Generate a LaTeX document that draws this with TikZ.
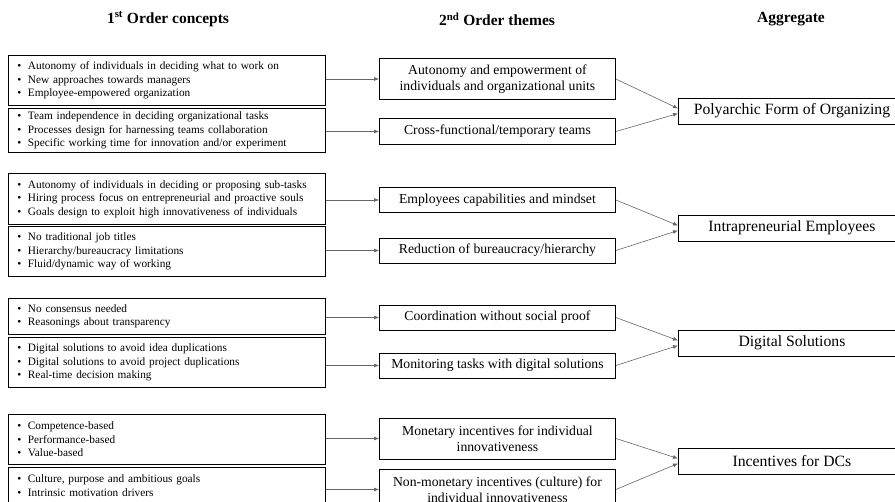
\documentclass[tikz,border=0pt]{standalone}
\usepackage{fontspec}
\setmainfont{Liberation Serif}
\usetikzlibrary{arrows.meta}
\newcommand\bl[1]{\makebox[10.5pt][l]{\textbullet}#1}
\tikzset{
 lbox/.style={draw=black, line width=0.9pt, anchor=north west, text width=299pt, inner xsep=9pt, inner ysep=0pt, align=left, font=\fontsize{11.3}{13.6}\selectfont},
 mbox/.style={draw=black, line width=0.9pt, anchor=west, minimum width=236pt, align=center, inner sep=0pt, font=\fontsize{13.7}{15.5}\selectfont},
 abox/.style={draw=black, line width=0.9pt, anchor=west, minimum width=227pt, minimum height=26pt, inner sep=0pt, font=\fontsize{15.7}{18}\selectfont},
 hdr/.style={font=\bfseries\fontsize{15.5}{18}\selectfont},
 conn/.style={draw=black!60, line width=0.6pt, -{Latex[length=5pt,width=4pt]}},
}
\begin{document}
\begin{tikzpicture}[x=1pt,y=-1pt]
\useasboundingbox (0,0) rectangle (895,502);
\clip (0,0) rectangle (895,502);
% headers
\node[hdr] (h1) at (168,19) {1\textsuperscript{st} Order concepts};
\node[hdr] (h2) at (497,19) {2\textsuperscript{nd} Order themes};
\node[hdr] (h3) at (791,19) {Aggregate};
% first order boxes
\node[lbox, minimum height=50pt] (b1) at (8,55) {\bl{Autonomy of individuals in deciding what to work on}\\\bl{New approaches towards managers}\\\bl{Employee-empowered organization}};
\node[lbox, minimum height=44pt] (b2) at (8,108) {\bl{Team independence in deciding organizational tasks}\\\bl{Processes design for harnessing teams collaboration}\\\bl{Specific working time for innovation and/or experiment}};
\node[lbox, minimum height=51pt] (b3) at (8,173) {\bl{Autonomy of individuals in deciding or proposing sub-tasks}\\\bl{Hiring process focus on entrepreneurial and proactive souls}\\\bl{Goals design to exploit high innovativeness of individuals}};
\node[lbox, minimum height=50pt] (b4) at (8,226) {\bl{No traditional job titles}\\\bl{Hierarchy/bureaucracy limitations}\\\bl{Fluid/dynamic way of working}};
\node[lbox, minimum height=36pt] (b5) at (8,298) {\bl{No consensus needed}\\\bl{Reasonings about transparency}};
\node[lbox, minimum height=50pt] (b6) at (8,337) {\bl{Digital solutions to avoid idea duplications}\\\bl{Digital solutions to avoid project duplications}\\\bl{Real-time decision making}};
\node[lbox, minimum height=50pt] (b7) at (8,414) {\bl{Competence-based}\\\bl{Performance-based}\\\bl{Value-based}};
\node[lbox, minimum height=50pt] (b8) at (8,467) {\bl{Culture, purpose and ambitious goals}\\\bl{Intrinsic motivation drivers}\\\mbox{}};
% second order themes
\node[mbox, minimum height=41pt] (m1) at (379,79) {Autonomy and empowerment of\\individuals and organizational units};
\node[mbox, minimum height=26pt] (m2) at (379,131.5) {Cross-functional/temporary teams};
\node[mbox, minimum height=25pt] (m3) at (379,200) {Employees capabilities and mindset};
\node[mbox, minimum height=25pt] (m4) at (379,250.5) {Reduction of bureaucracy/hierarchy};
\node[mbox, minimum height=25pt] (m5) at (379,317.5) {Coordination without social proof};
\node[mbox, minimum height=25pt] (m6) at (379,365.5) {Monitoring tasks with digital solutions};
\node[mbox, minimum height=41pt] (m7) at (379,438.5) {Monetary incentives for individual\\innovativeness};
\node[mbox, minimum height=41pt] (m8) at (379,489.5) {Non-monetary incentives (culture) for\\individual innovativeness};
% aggregate
\node[abox] (a1) at (678,111) {Polyarchic Form of Organizing};
\node[abox] (a2) at (678,228) {Intrapreneurial Employees};
\node[abox] (a3) at (678,343) {Digital Solutions};
\node[abox] (a4) at (678,461) {Incentives for DCs};
% connectors first -> second
\foreach \b/\m in {b1/m1,b2/m2,b3/m3,b4/m4,b5/m5,b6/m6,b7/m7,b8/m8}
  \draw[conn] (\m.west -| \b.east) -- (\m.west);
% connectors second -> aggregate
\foreach \u/\l/\a in {m1/m2/a1,m3/m4/a2,m5/m6/a3,m7/m8/a4}{
  \draw[conn] (\u.east) -- ([yshift=2.5pt]\a.west);
  \draw[conn] (\l.east) -- ([yshift=-2.5pt]\a.west);
}
\end{tikzpicture}
\end{document}
